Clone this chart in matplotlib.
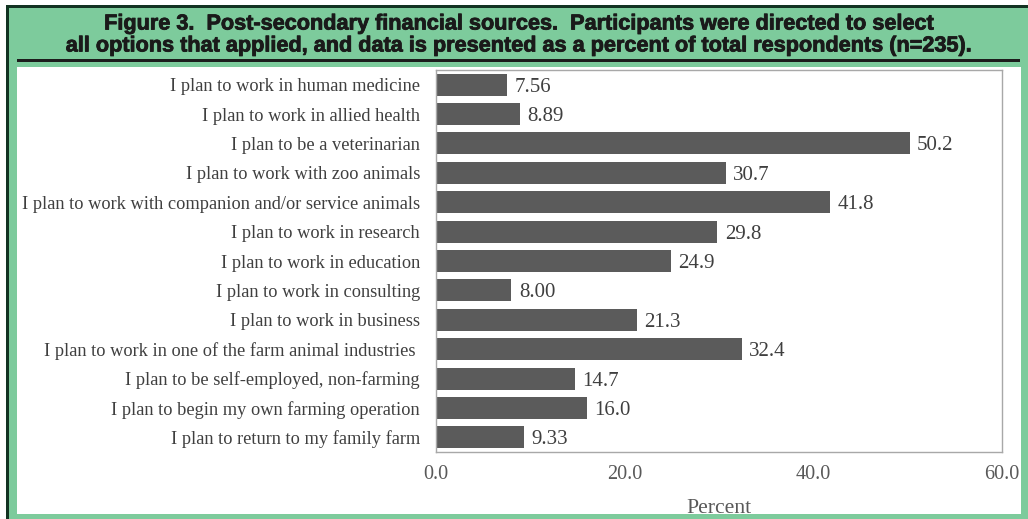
import matplotlib
matplotlib.use("Agg")
import matplotlib.pyplot as plt
import matplotlib.patheffects as pe
from matplotlib.patches import Rectangle

# Survey responses (percent of respondents, n=235), top to bottom
categories = [
    "I plan to work in human medicine",
    "I plan to work in allied health",
    "I plan to be a veterinarian",
    "I plan to work with zoo animals",
    "I plan to work with companion and/or service animals",
    "I plan to work in research",
    "I plan to work in education",
    "I plan to work in consulting",
    "I plan to work in business",
    "I plan to work in one of the farm animal industries ",
    "I plan to be self-employed, non-farming",
    "I plan to begin my own farming operation",
    "I plan to return to my family farm",
]
percent = [7.56, 8.89, 50.2, 30.7, 41.8, 29.8, 24.9, 8.00, 21.3, 32.4, 14.7, 16.0, 9.33]
x_ticks = [0, 20, 40, 60]
x_tick_labels = ["0.0", "20.0", "40.0", "60.0"]

title_lines = (
    "Figure 3.  Post-secondary financial sources.  Participants were directed to select\n"
    "all options that applied, and data is presented as a percent of total respondents (n=235)."
)

W, H = 1028, 519
fig = plt.figure(figsize=(W / 100, H / 100), dpi=100)
fig.patch.set_facecolor("white")

GREEN = "#7dcb9c"
DARK = "#123322"


def px_rect(x0, y0, x1, y1, color, z=0):
    """Rectangle given in pixel coordinates measured from the top-left corner."""
    fig.add_artist(Rectangle((x0 / W, 1 - y1 / H), (x1 - x0) / W, (y1 - y0) / H,
                             transform=fig.transFigure, facecolor=color,
                             edgecolor="none", zorder=z))


# Framed panel: green card with dark top/left rule, title underline, white inset
px_rect(6, 5, W, H, GREEN, z=0)
px_rect(6, 5, W, 8, DARK, z=1)
px_rect(6, 5, 9, H, DARK, z=1)
px_rect(17, 59, 1020, 62, "#1c1c1c", z=1)
px_rect(17, 67, 1021, 514, "white", z=1)

title = fig.text(519 / W, 1 - 35 / H, title_lines, ha="center", va="center",
                 fontsize=15.6, fontweight="heavy", family="Liberation Sans",
                 color="#1a1a1a", linespacing=1.06, zorder=3)
title.set_path_effects([pe.withStroke(linewidth=0.6, foreground="#1a1a1a")])

ax = fig.add_axes([436 / W, 1 - 452 / H, (1002 - 436) / W, (452 - 70) / H])
ax.set_zorder(2)
ax.patch.set_alpha(0)

ypos = list(range(len(categories)))
bars = ax.barh(ypos, percent, height=0.75, color="#5b5b5b", zorder=2)
for y, v in zip(ypos, percent):
    ax.text(v + 0.8, y, f"{v:#.3g}", ha="left", va="center_baseline",
            fontsize=15, family="Liberation Serif", color="#3f3f3f")

ax.set_ylim(len(categories) - 0.5, -0.5)
ax.set_xlim(0, 60)
ax.set_yticks(ypos)
ax.set_yticklabels(categories, family="Liberation Serif", fontsize=13.2, color="#3f3f3f",
                   va="center_baseline")
ax.set_xticks(x_ticks)
ax.set_xticklabels(x_tick_labels, family="Liberation Serif", fontsize=14.6, color="#595959")
ax.tick_params(axis="y", length=0, pad=11.5)
ax.tick_params(axis="x", length=0, pad=9.5)
ax.set_xlabel("Percent", family="Liberation Serif", fontsize=15.6, color="#595959", labelpad=11)
for s in ax.spines.values():
    s.set_color("#a8a8a8")
    s.set_linewidth(1.0)

fig.savefig("out.png", dpi=100)
